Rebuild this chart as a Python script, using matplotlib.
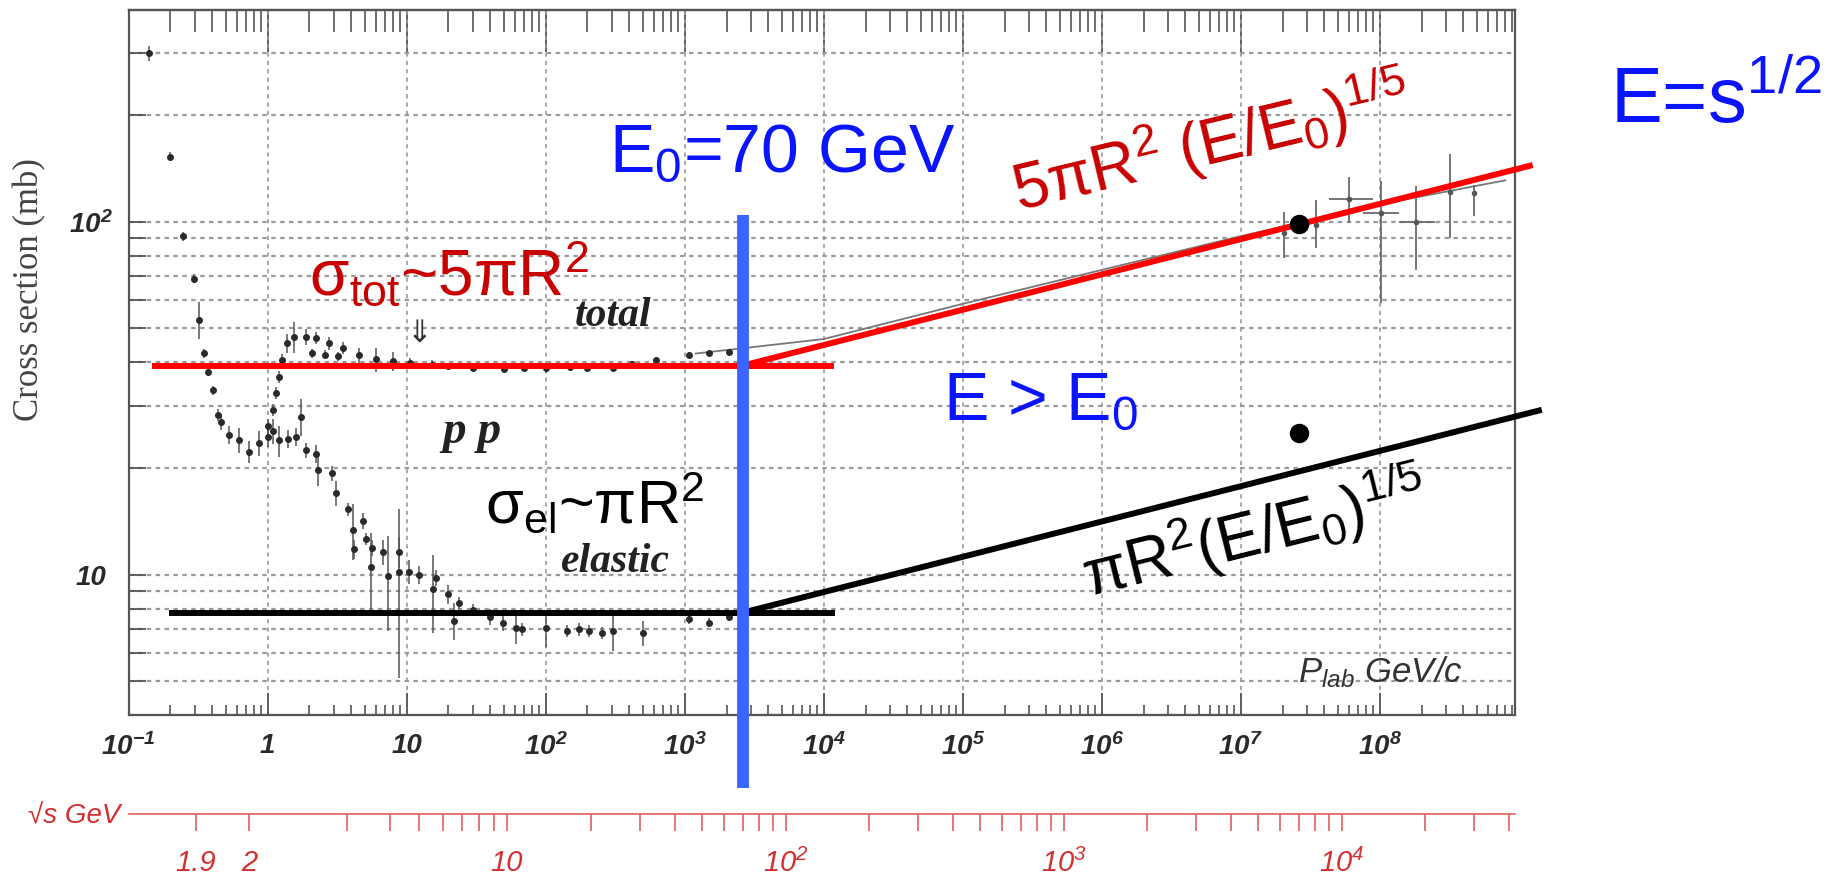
import numpy as np
import matplotlib
matplotlib.use("Agg")
import matplotlib.pyplot as plt
from matplotlib.ticker import FixedLocator, FixedFormatter, LogLocator, NullFormatter, NullLocator

plt.rcParams['font.family'] = ['Liberation Sans', 'DejaVu Sans']
plt.rcParams['mathtext.fontset'] = 'custom'
plt.rcParams['mathtext.rm'] = 'Liberation Sans'
plt.rcParams['mathtext.it'] = 'Liberation Sans:italic'
plt.rcParams['mathtext.default'] = 'regular'

M_P = 0.938  # proton mass, GeV


def sqrts_from_plab(p):
    p = np.asarray(p, dtype=float)
    e = np.sqrt(p**2 + M_P**2)
    return np.sqrt(2 * M_P**2 + 2 * M_P * e)


def plab_from_sqrts(rs):
    s = np.asarray(rs, dtype=float)**2
    e = (s - 2 * M_P**2) / (2 * M_P)
    return np.sqrt(e**2 - M_P**2)


# ---- data ----
# pp total cross section (plab GeV/c, mb, relative error)
tot_plab = [0.141, 0.198, 0.248, 0.294, 0.323, 0.35, 0.37, 0.402, 0.437, 0.46,
            0.53, 0.626, 0.738, 0.872, 1.0, 1.086, 1.15, 1.21, 1.28, 1.39,
            1.555, 1.89, 2.1, 2.23, 2.6, 2.78, 3.2, 3.46, 4.57, 6.03,
            7.94, 10.5, 15.3, 20, 30, 50, 70, 100, 150, 200,
            303, 420, 620, 1080, 1500, 2090]
tot_sigma = [300, 153, 91, 69, 52.7, 42.4, 37.6, 33.3, 28.3, 27.1,
             24.9, 24.1, 22.3, 23.6, 26.3, 29.3, 32.7, 36.4, 40.5, 45.2,
             47.2, 47.2, 42.4, 46.8, 42.0, 45.2, 41.6, 43.8, 41.9, 40.7,
             40.2, 39.9, 39.3, 39.0, 38.6, 38.3, 38.4, 38.5, 38.7, 38.6,
             38.4, 39.5, 40.5, 41.9, 42.4, 42.8]
tot_err = [0.05, 0.03, 0.03, 0.03, 0.12, 0.03, 0.03, 0.03, 0.04, 0.05,
           0.06, 0.08, 0.07, 0.08, 0.05, 0.04, 0.04, 0.04, 0.04, 0.06,
           0.1, 0.05, 0.03, 0.04, 0.03, 0.04, 0.03, 0.04, 0.05, 0.08,
           0.06, 0.03, 0.03, 0.02, 0.03, 0.03, 0.02, 0.03, 0.02, 0.02,
           0.02, 0.02, 0.02, 0.02, 0.02, 0.02]

# pp elastic cross section
el_plab = [1.0, 1.1, 1.2, 1.4, 1.6, 1.74, 1.89, 2.23, 2.29, 2.93,
           3.1, 3.76, 4.09, 4.2, 4.83, 5.1, 5.5, 5.68, 6.71, 7.3,
           8.85, 8.85, 10.4, 12.3, 15.4, 16.2, 19.7, 22, 24.0, 29.9,
           40, 49, 61, 68, 100, 143, 175, 206, 256, 303,
           498, 1080, 1500, 2090]
el_sigma = [24.5, 25.5, 24.0, 24.3, 24.6, 28.0, 22.5, 22.0, 19.8, 19.4,
            17.0, 15.3, 13.4, 11.8, 14.2, 12.6, 10.5, 11.9, 11.6, 9.9,
            11.6, 10.2, 10.2, 10.0, 9.1, 9.8, 8.8, 7.4, 8.3, 7.96,
            7.6, 7.3, 7.07, 7.0, 7.07, 6.92, 7.0, 6.92, 6.84, 6.92,
            6.84, 7.46, 7.3, 7.6]
el_err = [0.06, 0.08, 0.1, 0.06, 0.06, 0.12, 0.05, 0.06, 0.1, 0.05,
          0.08, 0.04, 0.18, 0.06, 0.05, 0.04, 0.25, 0.05, 0.08, 0.3,
          0.1, 0.5, 0.08, 0.06, 0.25, 0.05, 0.06, 0.12, 0.04, 0.04,
          0.05, 0.05, 0.1, 0.04, 0.12, 0.04, 0.04, 0.04, 0.04, 0.12,
          0.08, 0.03, 0.03, 0.03]

# cosmic ray points
cr_plab = [2.06e7, 3.48e7, 6.05e7, 1.02e8, 1.83e8, 3.19e8, 4.8e8]
cr_sigma = [92.7, 98.0, 116.0, 105.6, 100.0, 121.6, 120.3]
cr_lo = [78.8, 84.0, 99.0, 59.0, 73.0, 90.0, 104.0]
cr_hi = [106.7, 115.0, 134.0, 130.0, 126.0, 156.0, 127.0]
cr_plab_lo = [2.06e7, 3.48e7, 4.3e7, 7.55e7, 1.38e8, 3.19e8, 4.8e8]
cr_plab_hi = [2.06e7, 3.48e7, 8.9e7, 1.38e8, 2.5e8, 3.19e8, 4.8e8]

# thin fit curve through total cross section
fit_plab = [1200, 1e4, 1e5, 1e6, 1e7, 1e8, 8e8]
fit_sigma = [42.3, 46.5, 58.5, 73.0, 91.0, 112.0, 131.0]

# LHC points (7 TeV)
lhc_sqrts = 7000
lhc_tot = 98.5
lhc_el = 25.2

# model lines
E0 = 70.0
sig_tot0 = 39.1
sig_el0 = 7.8
tot_flat_plab = [0.148, 1.18e4]
el_flat_plab = [0.194, 1.2e4]
tot_rise_end = 4.86e4
el_rise_end = 5.24e4
e0_line_sigma = [2.49, 104.5]

x_major = [1e-1, 1, 10, 1e2, 1e3, 1e4, 1e5, 1e6, 1e7, 1e8]
x_labels = ['$10^{-1}$', '1', '10', '$10^{2}$', '$10^{3}$', '$10^{4}$',
            '$10^{5}$', '$10^{6}$', '$10^{7}$', '$10^{8}$']
y_major = [10, 100]
y_labels = ['10', '$10^{2}$']

sqrts_ticks = [1.9, 2, 3, 4, 5, 6, 7, 8, 9, 10, 20, 30, 40, 50, 60, 70, 80, 90,
               100, 200, 300, 400, 500, 600, 700, 800, 900,
               1000, 2000, 3000, 4000, 5000, 6000, 7000, 8000, 9000,
               10000, 20000, 30000, 40000]
sqrts_labels = {1.9: '1.9', 2: '2', 10: '10', 100: '$10^{2}$',
                1000: '$10^{3}$', 10000: '$10^{4}$'}

# ---- colours ----
DARKRED = '#c80000'
RED = '#ff0000'
BLUE = '#0a14ff'
LINEBLUE = '#3a66ff'
AXRED = '#e06060'
GRID = '#9a9a9a'
FRAME = '#555555'

fig = plt.figure(figsize=(18.42, 8.77), dpi=100)
ax = fig.add_axes([0.0698, 0.1847, 0.7527, 0.8039])
ax.set_xscale('log')
ax.set_yscale('log')
ax.set_xlim(0.1, 9.4e8)
ax.set_ylim(4.0, 398)

for sp in ax.spines.values():
    sp.set_color(FRAME)
    sp.set_linewidth(1.6)

ax.xaxis.set_major_locator(FixedLocator(x_major))
ax.xaxis.set_major_formatter(FixedFormatter(x_labels))
ax.xaxis.set_minor_locator(LogLocator(base=10, subs=np.arange(2, 10), numticks=40))
ax.xaxis.set_minor_formatter(NullFormatter())
ax.yaxis.set_major_locator(FixedLocator(y_major))
ax.yaxis.set_major_formatter(FixedFormatter(y_labels))
ax.yaxis.set_minor_locator(LogLocator(base=10, subs=np.arange(2, 10), numticks=40))
ax.yaxis.set_minor_formatter(NullFormatter())

ax.tick_params(axis='x', which='major', direction='in', length=16, width=1.3,
               color=FRAME, labelsize=20, pad=13, labelcolor='#2a2a2a')
ax.tick_params(axis='x', which='minor', direction='in', length=7, width=1.2, color=FRAME)
ax.tick_params(axis='y', which='both', direction='in', length=12, width=1.3,
               color=FRAME, labelsize=20, pad=27, labelcolor='#2a2a2a')
for lab in ax.get_xticklabels() + ax.get_yticklabels():
    lab.set_fontstyle('italic')
    lab.set_fontweight('bold')
for lab in ax.get_yticklabels():
    lab.set_horizontalalignment('center')

top = ax.secondary_xaxis('top')
top.xaxis.set_major_locator(FixedLocator(x_major))
top.xaxis.set_minor_locator(LogLocator(base=10, subs=np.arange(2, 10), numticks=40))
top.xaxis.set_major_formatter(NullFormatter())
top.xaxis.set_minor_formatter(NullFormatter())
top.tick_params(axis='x', which='major', direction='in', length=30, width=1.3, color=FRAME)
top.tick_params(axis='x', which='minor', direction='in', length=16, width=1.2, color=FRAME)
top.spines['top'].set_color(FRAME)
top.spines['top'].set_linewidth(1.6)

ax.grid(which='major', axis='x', ls=(0, (2.5, 2.5)), color=GRID, lw=1.2)
ax.grid(which='both', axis='y', ls=(0, (2, 2)), color=GRID, lw=1.6)
ax.set_axisbelow(True)

# experimental data
ax.plot(fit_plab, fit_sigma, color='#777777', lw=1.3, zorder=2)
ax.errorbar(tot_plab, tot_sigma, yerr=np.array(tot_err) * np.array(tot_sigma),
            fmt='o', ms=4, color='#2a2a2a', ecolor='#555555', elinewidth=1.1,
            capsize=0, zorder=3)
ax.errorbar(el_plab, el_sigma, yerr=np.array(el_err) * np.array(el_sigma),
            fmt='o', ms=4, color='#2a2a2a', ecolor='#555555', elinewidth=1.1,
            capsize=0, zorder=3)
cr_s = np.array(cr_sigma)
cr_p = np.array(cr_plab)
ax.errorbar(cr_p, cr_s, yerr=[cr_s - np.array(cr_lo), np.array(cr_hi) - cr_s],
            xerr=[cr_p - np.array(cr_plab_lo), np.array(cr_plab_hi) - cr_p],
            fmt='o', ms=3, color='#555555', ecolor='#6a6a6a', elinewidth=1.3,
            capsize=0, zorder=3)

# model lines
p0 = plab_from_sqrts(E0)
ax.plot(tot_flat_plab, [sig_tot0, sig_tot0], color=RED, lw=4.3, zorder=5,
        solid_capstyle='butt', clip_on=False)
ax.plot(el_flat_plab, [sig_el0, sig_el0], color='black', lw=4.3, zorder=5,
        solid_capstyle='butt', clip_on=False)
tot_rise_e = np.array([E0, tot_rise_end])
el_rise_e = np.array([E0, el_rise_end])
ax.plot(plab_from_sqrts(tot_rise_e), sig_tot0 * (tot_rise_e / E0)**0.2, color=RED,
        lw=4.3, zorder=5, solid_capstyle='butt', clip_on=False)
ax.plot(plab_from_sqrts(el_rise_e), sig_el0 * (el_rise_e / E0)**0.2, color='black',
        lw=4.3, zorder=5, solid_capstyle='butt', clip_on=False)
ax.plot([p0, p0], e0_line_sigma, color=LINEBLUE, lw=8.5, zorder=6,
        solid_capstyle='butt', clip_on=False)

p_lhc = plab_from_sqrts(lhc_sqrts)
ax.plot([p_lhc, p_lhc], [lhc_tot, lhc_el], 'o', color='black', ms=13, zorder=7,
        ls='none')

# labels of the original plot
serif = ['Liberation Serif', 'DejaVu Serif']
ax.text(303, 54.0, 'total', family=serif, style='italic', weight='bold',
        fontsize=30, color='#222222', ha='center', va='center')
ax.text(29.4, 25.4, 'p p', family=serif, style='italic', weight='bold',
        fontsize=34, color='#222222', ha='center', va='center')
ax.text(313, 10.86, 'elastic', family=serif, style='italic', weight='bold',
        fontsize=30, color='#222222', ha='center', va='center')
ax.text(2.57e7, 5.30, r'P$_{lab}$ GeV/c', style='italic', fontsize=25,
        color='#333333', ha='left', va='center')
ax.text(12.3, 48.4, '\u21d3', family=['DejaVu Sans'], fontsize=22,
        color='#333333', ha='center', va='center')
fig.text(30 / 1842, 1 - 290 / 877, 'Cross section (mb)', family=serif,
         fontsize=25, color='#444444', rotation=90, ha='center', va='center')

# annotations
ax.text(288, 138.3, r'E$_0$=70 GeV', fontsize=49, color=BLUE,
        ha='left', va='baseline')
fig.text(1610 / 1842, 1 - 123 / 877, r'E=s$^{1/2}$', fontsize=56, color=BLUE,
         ha='left', va='baseline')
ax.text(1.97, 61.6, r'σ$_{\mathrm{tot}}$~5πR$^2$', fontsize=46, color=DARKRED,
        ha='left', va='baseline')
ax.text(36.4, 14.0, r'σ$_{\mathrm{el}}$~πR$^2$', fontsize=44, color='black',
        ha='left', va='baseline')
ax.text(7.18e4, 27.4, r'E > E$_0$', fontsize=49, color=BLUE,
        ha='left', va='baseline')
ax.text(2.5e5, 107, r'5πR$^2$ (E/E$_0$)$^{1/5}$', fontsize=46, color=DARKRED,
        rotation=13.5, rotation_mode='anchor', ha='left', va='baseline')
ax.text(8.06e5, 8.59, r'πR$^2$(E/E$_0$)$^{1/5}$', fontsize=46, color='black',
        rotation=14, rotation_mode='anchor', ha='left', va='baseline')

# sqrt(s) axis
axs = fig.add_axes([0.0698, 1 - 814 / 877, 0.7527, 0.0001])
axs.set_xscale('log')
axs.set_xlim(ax.get_xlim())
axs.set_yticks([])
axs.patch.set_visible(False)
for side in ['top', 'left', 'right']:
    axs.spines[side].set_visible(False)
axs.spines['bottom'].set_color(AXRED)
axs.spines['bottom'].set_linewidth(1.2)
axs.xaxis.set_major_locator(FixedLocator(plab_from_sqrts(sqrts_ticks)))
axs.xaxis.set_major_formatter(FixedFormatter([sqrts_labels.get(v, '') for v in sqrts_ticks]))
axs.xaxis.set_minor_locator(NullLocator())
axs.tick_params(axis='x', direction='out', length=12, width=1.2, color=AXRED,
                labelsize=21, labelcolor='#d43030', pad=13)
for lab in axs.get_xticklabels():
    lab.set_fontstyle('italic')
fig.text(28 / 1842, 1 - 817 / 877, '\u221as GeV', style='italic', fontsize=20,
         color='#d43030', ha='left', va='center')

fig.savefig('out.png', dpi=100)
